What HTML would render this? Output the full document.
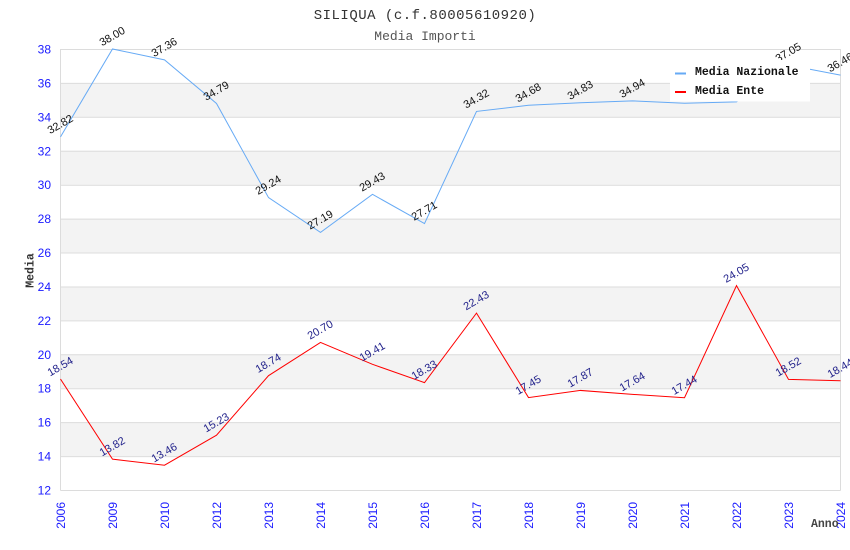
<!DOCTYPE html>
<html><head><meta charset="utf-8"><style>
html,body{margin:0;padding:0;background:#fff;}
svg{display:block;}
.mono{font-family:"Liberation Mono",monospace;}
.sans{font-family:"Liberation Sans",sans-serif;}
</style></head><body>
<svg width="850" height="550" viewBox="0 0 850 550" xmlns="http://www.w3.org/2000/svg">
<rect width="850" height="550" fill="#fff"/>
<text x="425" y="19" text-anchor="middle" class="mono" font-size="14" letter-spacing="0.5" fill="#333">SILIQUA (c.f.80005610920)</text>
<text x="425" y="40" text-anchor="middle" class="mono" font-size="13" fill="#555">Media Importi</text>
<!-- bands -->
<g fill="#f3f3f3">
<rect x="60.5" y="82.92" width="780" height="33.93"/>
<rect x="60.5" y="150.77" width="780" height="33.92"/>
<rect x="60.5" y="218.62" width="780" height="33.92"/>
<rect x="60.5" y="286.46" width="780" height="33.92"/>
<rect x="60.5" y="354.31" width="780" height="33.92"/>
<rect x="60.5" y="422.15" width="780" height="33.93"/>
</g>
<g stroke="#dcdcdc" stroke-width="1">
<line x1="60.5" x2="840.5" y1="49.5" y2="49.5"/>
<line x1="60.5" x2="840.5" y1="83.4" y2="83.4"/>
<line x1="60.5" x2="840.5" y1="117.3" y2="117.3"/>
<line x1="60.5" x2="840.5" y1="151.2" y2="151.2"/>
<line x1="60.5" x2="840.5" y1="185.2" y2="185.2"/>
<line x1="60.5" x2="840.5" y1="219.1" y2="219.1"/>
<line x1="60.5" x2="840.5" y1="253" y2="253"/>
<line x1="60.5" x2="840.5" y1="287" y2="287"/>
<line x1="60.5" x2="840.5" y1="320.9" y2="320.9"/>
<line x1="60.5" x2="840.5" y1="354.8" y2="354.8"/>
<line x1="60.5" x2="840.5" y1="388.7" y2="388.7"/>
<line x1="60.5" x2="840.5" y1="422.6" y2="422.6"/>
<line x1="60.5" x2="840.5" y1="456.6" y2="456.6"/>
<line x1="60.5" x2="840.5" y1="490.5" y2="490.5"/>
<line x1="60.5" x2="60.5" y1="49" y2="490.5"/>
<line x1="840.5" x2="840.5" y1="49" y2="490.5"/>
</g>
<!-- y ticks -->
<g class="sans" font-size="12" fill="#1a1aff" text-anchor="end">
<text x="51" y="53.5">38</text>
<text x="51" y="87.4">36</text>
<text x="51" y="121.3">34</text>
<text x="51" y="155.3">32</text>
<text x="51" y="189.2">30</text>
<text x="51" y="223.1">28</text>
<text x="51" y="257">26</text>
<text x="51" y="291">24</text>
<text x="51" y="324.9">22</text>
<text x="51" y="358.8">20</text>
<text x="51" y="392.7">18</text>
<text x="51" y="426.7">16</text>
<text x="51" y="460.6">14</text>
<text x="51" y="494.5">12</text>
</g>
<!-- x ticks -->
<g class="sans" font-size="12" fill="#1a1aff" text-anchor="end">
<text transform="translate(64.8,502) rotate(-90)">2006</text>
<text transform="translate(116.8,502) rotate(-90)">2009</text>
<text transform="translate(168.8,502) rotate(-90)">2010</text>
<text transform="translate(220.8,502) rotate(-90)">2012</text>
<text transform="translate(272.8,502) rotate(-90)">2013</text>
<text transform="translate(324.8,502) rotate(-90)">2014</text>
<text transform="translate(376.8,502) rotate(-90)">2015</text>
<text transform="translate(428.8,502) rotate(-90)">2016</text>
<text transform="translate(480.8,502) rotate(-90)">2017</text>
<text transform="translate(532.8,502) rotate(-90)">2018</text>
<text transform="translate(584.8,502) rotate(-90)">2019</text>
<text transform="translate(636.8,502) rotate(-90)">2020</text>
<text transform="translate(688.8,502) rotate(-90)">2021</text>
<text transform="translate(740.8,502) rotate(-90)">2022</text>
<text transform="translate(792.8,502) rotate(-90)">2023</text>
<text transform="translate(844.8,502) rotate(-90)">2024</text>
</g>
<text transform="translate(33.5,270.5) rotate(-90)" text-anchor="middle" class="mono" font-size="11.5" font-weight="bold" fill="#333">Media</text>
<text x="811" y="527" class="mono" font-size="11.5" font-weight="bold" fill="#444">Anno</text>
<!-- series -->
<polyline fill="none" stroke="#66aaf5" stroke-width="1" points="60.5,136.86 112.5,49 164.5,59.86 216.5,103.45 268.5,197.58 320.5,232.36 372.5,194.36 424.5,223.54 476.5,111.42 528.5,105.31 580.5,102.77 632.5,100.9 684.5,103.28 736.5,101.92 788.5,65.11 840.5,75.12"/>
<polyline fill="none" stroke="#ff0000" stroke-width="1" points="60.5,379.07 112.5,459.13 164.5,465.24 216.5,435.21 268.5,375.68 320.5,342.43 372.5,364.32 424.5,382.63 476.5,313.09 528.5,397.56 580.5,390.44 632.5,394.34 684.5,397.73 736.5,285.61 788.5,379.41 840.5,380.77"/>
<!-- national labels -->
<g class="sans" font-size="11" fill="#111" text-anchor="middle">
<text transform="translate(62,127.4) rotate(-30)">32.82</text>
<text transform="translate(114,39.5) rotate(-30)">38.00</text>
<text transform="translate(166,50.4) rotate(-30)">37.36</text>
<text transform="translate(218,94) rotate(-30)">34.79</text>
<text transform="translate(270,188.1) rotate(-30)">29.24</text>
<text transform="translate(322,222.9) rotate(-30)">27.19</text>
<text transform="translate(374,184.9) rotate(-30)">29.43</text>
<text transform="translate(426,214) rotate(-30)">27.71</text>
<text transform="translate(478,101.9) rotate(-30)">34.32</text>
<text transform="translate(530,95.8) rotate(-30)">34.68</text>
<text transform="translate(582,93.3) rotate(-30)">34.83</text>
<text transform="translate(634,91.4) rotate(-30)">34.94</text>
<text transform="translate(686,93.8) rotate(-30)">34.80</text>
<text transform="translate(738,92.4) rotate(-30)">34.88</text>
<text transform="translate(790,55.6) rotate(-30)">37.05</text>
<text transform="translate(842,65.6) rotate(-30)">36.46</text>
</g>
<!-- ente labels -->
<g class="sans" font-size="11" fill="#22228b" text-anchor="middle">
<text transform="translate(62,369.6) rotate(-30)">18.54</text>
<text transform="translate(114,449.6) rotate(-30)">13.82</text>
<text transform="translate(166,455.7) rotate(-30)">13.46</text>
<text transform="translate(218,425.7) rotate(-30)">15.23</text>
<text transform="translate(270,366.2) rotate(-30)">18.74</text>
<text transform="translate(322,332.9) rotate(-30)">20.70</text>
<text transform="translate(374,354.8) rotate(-30)">19.41</text>
<text transform="translate(426,373.1) rotate(-30)">18.33</text>
<text transform="translate(478,303.6) rotate(-30)">22.43</text>
<text transform="translate(530,388.1) rotate(-30)">17.45</text>
<text transform="translate(582,380.9) rotate(-30)">17.87</text>
<text transform="translate(634,384.8) rotate(-30)">17.64</text>
<text transform="translate(686,388.2) rotate(-30)">17.44</text>
<text transform="translate(738,276.1) rotate(-30)">24.05</text>
<text transform="translate(790,369.9) rotate(-30)">18.52</text>
<text transform="translate(842,371.3) rotate(-30)">18.44</text>
</g>
<!-- legend -->
<rect x="670" y="60" width="140" height="41.5" fill="#fff"/>
<rect x="675" y="72.5" width="11" height="2" fill="#66aaf5"/>
<rect x="675" y="91" width="11" height="2" fill="#ff0000"/>
<text x="695" y="75" class="mono" font-size="11.5" font-weight="bold" fill="#111">Media Nazionale</text>
<text x="695" y="94" class="mono" font-size="11.5" font-weight="bold" fill="#111">Media Ente</text>
</svg>
</body></html>
